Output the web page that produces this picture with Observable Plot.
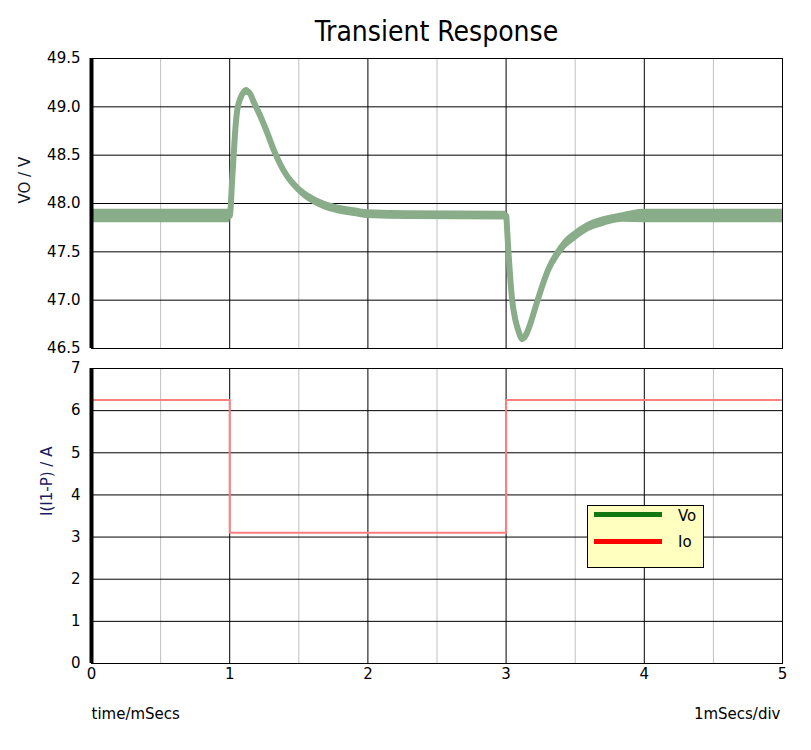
<!DOCTYPE html>
<html>
<head>
<meta charset="utf-8">
<script src="https://cdn.jsdelivr.net/npm/d3@7"></script>
<script src="https://cdn.jsdelivr.net/npm/@observablehq/plot@0.6"></script>
<style>
  html, body { margin: 0; padding: 0; background: #fff; }
  #wrap { position: relative; width: 811px; height: 750px; overflow: hidden; font-family: "DejaVu Sans", sans-serif; }
  #title { position: absolute; left: 91px; width: 691px; top: 14px; text-align: center;
           font-family: "DejaVu Sans Condensed", "DejaVu Sans", sans-serif; font-size: 28px; color: #000; line-height: 36px; }
  #top { position: absolute; left: 0; top: 0; }
  #bottom { position: absolute; left: 0; top: 358px; }
  #legend { position: absolute; left: 587px; top: 505px; width: 117px; height: 63px; background: #ffffc0; border: 1px solid #000; box-sizing: border-box; }
  .lg-line { position: absolute; left: 6px; width: 68px; height: 5px; }
  .lg-text { position: absolute; left: 90px; font-size: 15px; font-family: "DejaVu Sans", sans-serif; color: #000; line-height: 16px; }
</style>
</head>
<body>
<div id="wrap">
  <div id="top"></div>
  <div id="bottom"></div>
  <div id="title">Transient Response</div>
  <div id="legend">
    <div class="lg-line" style="top:6px;background:#117711"></div>
    <div class="lg-text" style="top:2px">Vo</div>
    <div class="lg-line" style="top:33px;background:#ff0000"></div>
    <div class="lg-text" style="top:28px">Io</div>
  </div>
</div>
<script>
// ---- data ----
const voT  = [0, 0.5, 1.0, 1.005, 1.017, 1.029, 1.041, 1.054, 1.078, 1.102, 1.126, 1.150, 1.174, 1.223, 1.272, 1.320, 1.368, 1.417, 1.489, 1.586, 1.683, 1.780, 1.900, 2.0, 2.3, 2.999,
              3.0, 3.009, 3.019, 3.031, 3.044, 3.068, 3.092, 3.116, 3.140, 3.164, 3.213, 3.262, 3.310, 3.358, 3.407, 3.504, 3.600, 3.698, 3.843, 4.0, 4.5, 5.0];
const voC  = [47.87, 47.87, 47.87, 47.92, 48.23, 48.51, 48.77, 48.96, 49.09, 49.15, 49.16, 49.13, 49.05, 48.90, 48.73, 48.55, 48.40, 48.28, 48.16, 48.05, 47.98, 47.94, 47.91, 47.89, 47.88, 47.875,
              47.875, 47.69, 47.45, 47.21, 47.00, 46.79, 46.67, 46.60, 46.63, 46.71, 46.93, 47.15, 47.33, 47.45, 47.55, 47.67, 47.76, 47.81, 47.855, 47.87, 47.87, 47.87];
const voHW = [0.07, 0.07, 0.07, 0.035, 0.035, 0.035, 0.035, 0.04, 0.04, 0.04, 0.04, 0.04, 0.04, 0.045, 0.045, 0.045, 0.045, 0.045, 0.045, 0.045, 0.045, 0.045, 0.045, 0.045, 0.045, 0.045,
              0.045, 0.035, 0.035, 0.035, 0.035, 0.04, 0.04, 0.04, 0.045, 0.05, 0.055, 0.055, 0.055, 0.055, 0.055, 0.055, 0.05, 0.05, 0.05, 0.07, 0.07, 0.07];

const ioT = [0, 1, 1, 3, 3, 5];
const ioV = [6.25, 6.25, 3.1, 3.1, 6.25, 6.25];

const xMajor = [0, 1, 2, 3, 4, 5];
const xMinor = [0.5, 1.5, 2.5, 3.5, 4.5];
const voTicks = [46.5, 47.0, 47.5, 48.0, 48.5, 49.0, 49.5];
const ioTicks = [0, 1, 2, 3, 4, 5, 6, 7];

const green = "#89ac89";
const red = "#ff7f7f";
const font = "DejaVu Sans, sans-serif";

const vo = voT.map((t, i) => ({t, c: voC[i], lo: voC[i] - voHW[i], hi: voC[i] + voHW[i]}));
const io = ioT.map((t, i) => ({t, v: ioV[i]}));

const topPlot = Plot.plot({
  width: 811, height: 358,
  marginLeft: 91, marginRight: 29, marginTop: 58, marginBottom: 10,
  style: {fontFamily: font, fontSize: "15px", background: "transparent", color: "#000"},
  x: {domain: [0, 5], axis: null},
  y: {domain: [46.5, 49.5], axis: null},
  marks: [
    Plot.ruleX(xMinor, {stroke: "#c0c0c0", strokeWidth: 1}),
    Plot.ruleX(xMajor, {stroke: "#000", strokeWidth: 1}),
    Plot.ruleY(voTicks, {stroke: "#000", strokeWidth: 1}),
    Plot.areaY(vo, {x: "t", y1: "lo", y2: "hi", fill: green, curve: "monotone-x", clip: true}),
    Plot.line(vo, {x: "t", y: "c", stroke: green, strokeWidth: 6, curve: "monotone-x", clip: true}),
    Plot.frame({stroke: "#000", strokeWidth: 1}),
    Plot.ruleX([0], {stroke: "#000", strokeWidth: 4}),
    Plot.axisY(voTicks, {tickFormat: d => d.toFixed(1), tickSize: 0, tickPadding: 11, fontSize: 15, label: null}),
    Plot.text(["VO / V"], {frameAnchor: "left", rotate: -90, dx: -66, fontSize: 15, fill: "#101828"})
  ]
});
document.getElementById("top").appendChild(topPlot);

const bottomPlot = Plot.plot({
  width: 811, height: 392,
  marginLeft: 91, marginRight: 29, marginTop: 10, marginBottom: 87,
  style: {fontFamily: font, fontSize: "15px", background: "transparent", color: "#000"},
  x: {domain: [0, 5], axis: null},
  y: {domain: [0, 7], axis: null},
  marks: [
    Plot.ruleX(xMinor, {stroke: "#c0c0c0", strokeWidth: 1}),
    Plot.ruleX(xMajor, {stroke: "#000", strokeWidth: 1}),
    Plot.ruleY(ioTicks, {stroke: "#000", strokeWidth: 1}),
    Plot.line(io, {x: "t", y: "v", stroke: red, strokeWidth: 2, clip: true}),
    Plot.frame({stroke: "#000", strokeWidth: 1}),
    Plot.ruleX([0], {stroke: "#000", strokeWidth: 4}),
    Plot.axisY(ioTicks, {tickFormat: d => String(d), tickSize: 0, tickPadding: 11, fontSize: 15, label: null}),
    Plot.axisX(xMajor, {tickFormat: d => String(d), tickSize: 0, tickPadding: 5, fontSize: 15, label: null}),
    Plot.text(["I(I1-P) / A"], {frameAnchor: "left", rotate: -90, dx: -44, fontSize: 15, fill: "#1a1a60"}),
    Plot.text(["time/mSecs"], {frameAnchor: "bottom-left", dy: 55, textAnchor: "start", fontSize: 15}),
    Plot.text(["1mSecs/div"], {frameAnchor: "bottom-right", dy: 55, dx: -2, textAnchor: "end", fontSize: 15})
  ]
});
document.getElementById("bottom").appendChild(bottomPlot);
</script>
</body>
</html>
